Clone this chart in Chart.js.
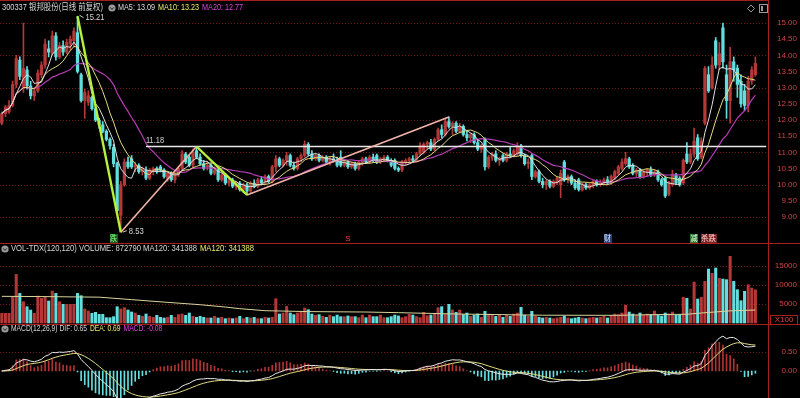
<!DOCTYPE html>
<html>
<head>
<meta charset="utf-8">
<script src="https://cdn.jsdelivr.net/npm/chart.js@4.4.1/dist/chart.umd.min.js"></script>
<style>
  html, body { margin: 0; padding: 0; background: #000; }
  #wrap { position: relative; width: 800px; height: 398px; overflow: hidden; background: #000; }
  #wrap canvas { position: absolute; left: 0; }
</style>
</head>
<body>
<div id="wrap">
  <canvas id="priceChart" width="800" height="244" style="top:0"></canvas>
  <canvas id="volChart" width="800" height="81" style="top:244px"></canvas>
  <canvas id="macdChart" width="800" height="73" style="top:325px"></canvas>
</div>
<script>
// ---- daily bars (300337, 日线 前复权) ----
const opens = [
  11.90, 12.20, 12.25, 12.45, 13.10, 13.85, 13.00, 13.55, 13.05, 12.75,
  12.90, 13.40, 13.70, 14.20, 14.05, 14.60, 13.95, 14.30, 14.10, 14.35,
  14.45, 14.70, 13.40, 12.60, 12.55, 12.70, 12.35, 12.00, 11.85, 11.65,
  11.40, 11.15, 10.65, 9.05, 10.00, 10.70, 10.80, 10.55, 10.60, 10.40,
  10.45, 10.20, 10.40, 10.50, 10.55, 10.45, 10.20, 10.35, 10.15, 10.30,
  10.50, 10.95, 10.85, 10.60, 11.05, 10.85, 10.65, 10.55, 10.60, 10.35,
  10.45, 10.15, 10.30, 10.05, 10.15, 9.95, 10.05, 9.85, 10.00, 9.80,
  10.05, 9.95, 10.15, 10.05, 10.25, 10.10, 10.55, 10.80, 10.60, 10.75,
  10.90, 10.60, 10.50, 10.80, 10.90, 11.25, 10.95, 10.80, 10.90, 10.75,
  10.85, 10.70, 10.80, 10.75, 10.85, 10.60, 10.70, 10.55, 10.65, 10.50,
  10.70, 10.80, 10.70, 10.85, 10.90, 10.70, 10.80, 10.85, 10.75, 10.75,
  10.50, 10.45, 10.70, 10.75, 10.80, 10.75, 10.95, 11.00, 11.25, 11.30,
  11.10, 11.40, 11.70, 11.55, 11.95, 11.80, 11.90, 11.65, 11.80, 11.55,
  11.45, 11.55, 11.30, 11.10, 11.40, 10.55, 10.85, 10.95, 10.75, 10.90,
  10.75, 10.95, 10.90, 10.95, 11.20, 10.90, 10.65, 10.90, 10.25, 10.40,
  10.10, 10.00, 10.10, 9.95, 10.05, 10.00, 10.70, 10.15, 10.25, 10.05,
  10.15, 9.85, 10.00, 9.90, 10.00, 10.10, 10.00, 10.05, 10.15, 10.05,
  10.20, 10.35, 10.50, 10.65, 10.80, 10.60, 10.35, 10.45, 10.25, 10.40,
  10.45, 10.30, 10.40, 10.15, 10.20, 9.70, 10.00, 10.30, 10.20, 10.05,
  10.95, 10.70, 10.95, 11.45, 10.85, 11.90, 13.40, 13.00, 14.45, 13.70,
  14.85, 13.40, 12.60, 13.80, 13.60, 13.20, 12.90, 12.45, 13.20, 13.40
];
const highs = [
  12.25, 12.45, 12.60, 13.20, 14.00, 13.95, 15.00, 13.65, 13.20, 13.00,
  13.55, 13.80, 14.50, 14.45, 14.75, 14.70, 14.40, 14.45, 14.50, 14.60,
  14.85, 15.21, 13.45, 12.95, 12.90, 12.75, 12.40, 12.05, 11.95, 11.70,
  11.45, 11.25, 10.70, 10.10, 10.80, 10.85, 10.90, 10.70, 10.65, 10.55,
  10.55, 10.50, 10.55, 10.55, 10.60, 10.50, 10.40, 10.40, 10.35, 10.55,
  11.05, 11.00, 10.90, 11.10, 11.18, 10.95, 10.75, 10.70, 10.65, 10.55,
  10.50, 10.35, 10.35, 10.20, 10.20, 10.10, 10.10, 10.05, 10.05, 10.10,
  10.15, 10.20, 10.25, 10.30, 10.30, 10.60, 10.90, 10.85, 10.80, 11.00,
  10.95, 10.70, 10.85, 10.95, 11.35, 11.30, 11.05, 10.95, 10.95, 10.90,
  10.90, 10.85, 10.95, 10.85, 11.05, 10.75, 10.75, 10.70, 10.70, 10.75,
  10.85, 10.85, 10.90, 10.95, 10.95, 10.85, 10.90, 10.90, 10.80, 10.80,
  10.55, 10.75, 10.80, 10.85, 10.90, 11.00, 11.30, 11.30, 11.35, 11.40,
  11.45, 11.75, 11.85, 12.05, 12.10, 11.95, 11.95, 11.90, 11.85, 11.65,
  11.60, 11.60, 11.40, 11.25, 11.45, 10.90, 11.00, 11.05, 10.85, 10.95,
  11.00, 11.15, 11.10, 11.30, 11.25, 10.95, 10.80, 10.95, 10.45, 10.45,
  10.20, 10.15, 10.15, 10.15, 10.25, 10.45, 10.75, 10.30, 10.30, 10.15,
  10.20, 10.05, 10.05, 10.05, 10.15, 10.15, 10.15, 10.20, 10.25, 10.30,
  10.45, 10.60, 10.80, 11.00, 10.85, 10.65, 10.50, 10.50, 10.45, 10.50,
  10.55, 10.45, 10.45, 10.20, 10.25, 10.10, 10.45, 10.35, 10.25, 10.80,
  11.30, 11.10, 11.75, 11.55, 11.45, 13.65, 13.65, 13.95, 14.55, 14.40,
  15.00, 13.70, 14.25, 13.95, 13.70, 13.40, 13.10, 13.35, 13.65, 13.95
];
const lows = [
  11.85, 12.10, 12.20, 12.40, 13.00, 13.25, 12.85, 12.95, 12.65, 12.60,
  12.85, 13.30, 13.60, 13.95, 14.00, 13.85, 13.90, 14.00, 14.05, 14.15,
  14.25, 13.45, 12.55, 12.05, 12.45, 12.30, 11.95, 11.75, 11.60, 11.35,
  11.10, 10.55, 9.15, 8.53, 9.95, 10.50, 10.50, 10.40, 10.35, 10.30,
  10.15, 10.15, 10.30, 10.35, 10.40, 10.20, 10.10, 10.10, 10.05, 10.25,
  10.45, 10.65, 10.55, 10.55, 10.80, 10.60, 10.45, 10.45, 10.30, 10.30,
  10.10, 10.10, 10.00, 9.95, 9.90, 9.85, 9.80, 9.75, 9.68, 9.75,
  9.90, 9.90, 10.00, 10.00, 10.05, 10.05, 10.40, 10.55, 10.55, 10.60,
  10.55, 10.45, 10.45, 10.70, 10.85, 10.90, 10.75, 10.75, 10.70, 10.70,
  10.65, 10.60, 10.70, 10.55, 10.55, 10.55, 10.50, 10.50, 10.45, 10.45,
  10.60, 10.65, 10.65, 10.70, 10.65, 10.65, 10.70, 10.70, 10.55, 10.45,
  10.40, 10.40, 10.60, 10.65, 10.70, 10.70, 10.90, 10.95, 11.10, 11.05,
  11.05, 11.35, 11.45, 11.50, 11.75, 11.55, 11.60, 11.60, 11.50, 11.35,
  11.30, 11.25, 11.05, 11.00, 10.45, 10.50, 10.75, 10.70, 10.60, 10.70,
  10.70, 10.85, 10.85, 10.90, 10.85, 10.60, 10.50, 10.15, 10.20, 10.05,
  9.90, 9.85, 9.90, 9.90, 10.00, 9.60, 10.10, 10.05, 10.00, 9.85,
  9.80, 9.80, 9.85, 9.85, 9.90, 9.95, 9.95, 10.00, 10.00, 10.00,
  10.15, 10.30, 10.45, 10.60, 10.50, 10.30, 10.25, 10.20, 10.20, 10.25,
  10.25, 10.25, 10.10, 9.95, 9.60, 9.65, 9.95, 10.00, 9.95, 10.00,
  10.65, 10.65, 10.85, 10.75, 10.80, 11.85, 12.85, 12.95, 13.60, 13.55,
  13.60, 12.05, 11.90, 13.20, 12.70, 12.40, 12.30, 12.25, 13.10, 13.35
];
const closes = [
  12.20, 12.40, 12.45, 13.10, 13.90, 13.35, 13.60, 13.05, 12.75, 12.90,
  13.45, 13.70, 14.35, 14.10, 14.60, 13.95, 14.30, 14.10, 14.40, 14.50,
  14.75, 13.50, 12.60, 12.85, 12.75, 12.35, 12.00, 11.85, 11.65, 11.40,
  11.20, 10.65, 9.20, 10.00, 10.70, 10.55, 10.55, 10.60, 10.40, 10.50,
  10.20, 10.45, 10.50, 10.40, 10.45, 10.25, 10.35, 10.15, 10.30, 10.50,
  10.95, 10.70, 10.60, 11.00, 10.85, 10.65, 10.50, 10.60, 10.35, 10.45,
  10.15, 10.30, 10.05, 10.15, 9.95, 10.05, 9.85, 10.00, 9.80, 10.05,
  9.95, 10.15, 10.05, 10.25, 10.10, 10.55, 10.80, 10.60, 10.75, 10.90,
  10.60, 10.50, 10.80, 10.90, 11.25, 10.95, 10.80, 10.90, 10.75, 10.85,
  10.70, 10.80, 10.75, 10.60, 10.60, 10.70, 10.55, 10.65, 10.50, 10.70,
  10.80, 10.70, 10.85, 10.75, 10.70, 10.80, 10.85, 10.75, 10.60, 10.50,
  10.45, 10.70, 10.75, 10.80, 10.75, 10.95, 11.20, 11.25, 11.30, 11.10,
  11.40, 11.70, 11.55, 11.95, 11.80, 11.90, 11.65, 11.80, 11.55, 11.45,
  11.55, 11.30, 11.10, 11.20, 10.55, 10.85, 10.95, 10.75, 10.80, 10.75,
  10.95, 10.90, 11.05, 11.20, 10.90, 10.65, 10.70, 10.25, 10.40, 10.10,
  10.00, 10.10, 9.95, 10.10, 10.20, 10.35, 10.15, 10.25, 10.05, 9.90,
  9.85, 10.00, 9.90, 10.00, 10.10, 10.00, 10.05, 10.15, 10.05, 10.25,
  10.40, 10.55, 10.70, 10.80, 10.55, 10.35, 10.45, 10.25, 10.40, 10.45,
  10.30, 10.40, 10.15, 10.00, 9.65, 10.05, 10.30, 10.05, 10.00, 10.75,
  10.70, 10.95, 11.35, 10.80, 11.35, 13.60, 12.90, 13.70, 13.70, 14.05,
  13.80, 12.60, 13.80, 13.55, 13.10, 12.50, 12.45, 13.20, 13.55, 13.75
];
// volume in units of 100 (axis shows X100)
const volumes = [
  2550, 2550, 2550, 6920, 12800, 7800, 5600, 4290, 3420, 2550,
  7100, 6490, 6920, 5790, 8420, 7800, 5600, 4910, 4910, 4910,
  4910, 7800, 7190, 3680, 3160, 2550, 2810, 2280, 2280, 1400,
  1400, 1660, 4290, 3680, 4030, 3420, 2900, 2630, 2020, 1750,
  2370, 1750, 1490, 2020, 1490, 1320, 1490, 2020, 1490, 2200,
  2370, 2020, 2630, 1750, 1490, 1750, 1490, 1320, 1320, 1750,
  1320, 1490, 1140, 1320, 1140, 1320, 1750, 1140, 1490, 1320,
  1490, 1140, 1140, 1490, 1320, 1490, 6390, 2370, 2630, 4380,
  2630, 2200, 2630, 2890, 3950, 3510, 2370, 2020, 2200, 1750,
  1490, 2100, 1670, 2100, 1670, 1670, 1850, 1670, 1670, 1400,
  2100, 1400, 2100, 1670, 1670, 2100, 1400, 1400, 1670, 2100,
  1850, 1400, 1670, 2280, 2100, 1670, 1400, 2800, 1900, 2100,
  2450, 4030, 4300, 2280, 4910, 3420, 2800, 3420, 2200, 2630,
  1750, 2020, 2370, 1490, 3070, 2370, 2020, 1750, 2200, 1490,
  2020, 1750, 2370, 2630, 4120, 2020, 1750, 3070, 1750, 1490,
  1320, 1490, 1320, 1140, 1320, 1490, 1750, 1320, 1140, 1320,
  1490, 1320, 1140, 1320, 1490, 1320, 1490, 1750, 1320, 2020,
  2370, 2200, 2630, 4650, 2890, 2370, 2020, 2630, 2020, 2370,
  2200, 3160, 2020, 1840, 2630, 2370, 2890, 2020, 2200, 6760,
  6500, 3680, 10780, 6310, 6760, 10960, 14200, 13070, 14470, 11750,
  11570, 11400, 17540, 10960, 8770, 5870, 8330, 10080, 9200, 8728
];
// VOL-TDX MA120 line: [day, value x100]
const volMa120 = [
  [0, 7020], [12, 6950], [27, 6800], [36, 6150], [45, 5500], [55, 4820],
  [62, 4200], [66, 3770], [73, 3240], [85, 3000], [101, 2890], [110, 2720],
  [126, 2370], [150, 2050], [171, 2020], [180, 2190], [190, 2300], [194, 2630],
  [202, 3200], [209, 3414]
];
// hand-drawn swing lines: peak 15.21, low 8.53, 11.18, 9.68, 12.09
const swingDays = [21, 33, 54, 68, 124];
const swingPrices = [15.21, 8.53, 11.18, 9.68, 12.09];
const levelPrice = 11.18;
const levelFrom = 40;
// signal marks under the candles
const signalDays = [31, 96, 168, 192, 196];
const signalText = ['跌', 'S', '财', '减', '杀跌'];
// axis tick labels
const priceTicks = ['9.00', '9.50', '10.00', '10.50', '11.00', '11.50', '12.00', '12.50', '13.00', '13.50', '14.00', '14.50', '15.00'];
const priceGrid = [9, 10, 11, 12, 13, 14, 15];
const volTicks = [5000, 10000, 15000];
const macdTicks = ['0.00', '0.50'];
const macdGrid = [0.5];
// header texts
const titleText = '300337 银邦股份(日线 前复权)';
const maText = ['MA5: 13.09', 'MA10: 13.23', 'MA20: 12.77'];
const volText = ['VOL-TDX(120,120) VOLUME: 872790 MA120: 341388', 'MA120: 341388'];
const macdText = ['MACD(12,26,9) DIF: 0.65', 'DEA: 0.69', 'MACD: -0.08'];

// ---- colours ----
const RED = '#b53838';
const CYAN = '#62dede';
const C_MA5 = '#dedede';
const C_MA10 = '#e4dc80';
const C_MA20 = '#b43cb4';
const GRID = '#6e1c1c';
const AXIS = '#a81e1e';
const TICK = '#d04444';
const HEAD_WHITE = '#d8d8d8';
const HEAD_YELLOW = '#ecec6a';
const HEAD_MAGENTA = '#e044e0';

// ---- derived series ----
function movingAverage(src, n) {
  return src.map((_, i) => {
    const from = Math.max(0, i - n + 1);
    let s = 0;
    for (let k = from; k <= i; k++) s += src[k];
    return s / (i - from + 1);
  });
}
function ema(src, n) {
  const out = [];
  src.forEach((v, i) => out.push(i === 0 ? v : (2 * v + (n - 1) * out[i - 1]) / (n + 1)));
  return out;
}
const ma5 = movingAverage(closes, 5);
const ma10 = movingAverage(closes, 10);
const ma20 = movingAverage(closes, 20);
const ema12 = ema(closes, 12);
const ema26 = ema(closes, 26);
const dif = ema12.map((v, i) => v - ema26[i]);
const dea = ema(dif, 9);
const macdHist = dif.map((v, i) => 2 * (v - dea[i]));

const slots = Array.from({ length: closes.length + 3 }, (_, i) => String(i));
const upDay = closes.map((c, i) => c >= opens[i]);
const dayColor = upDay.map(u => (u ? RED : CYAN));

// ---- drawing helpers ----
const FONT = '"Liberation Sans", "Noto Sans CJK SC", sans-serif';
function fitText(ctx, str, x, y, color, size, width, align) {
  ctx.save();
  ctx.font = size + 'px ' + FONT;
  ctx.fillStyle = color;
  ctx.textBaseline = 'middle';
  ctx.textAlign = align || 'left';
  const w = ctx.measureText(str).width;
  const sx = width ? width / w : 1;
  ctx.translate(x, y);
  ctx.scale(sx, 1);
  ctx.fillText(str, 0, 0);
  ctx.restore();
}
// a row of coloured pieces squeezed so the first one fits firstWidth
function textRow(ctx, parts, x, y, size, firstWidth) {
  ctx.save();
  ctx.font = size + 'px ' + FONT;
  const sx = firstWidth / ctx.measureText(parts[0][0]).width;
  ctx.restore();
  let cx = x;
  parts.forEach(([str, color]) => {
    ctx.save();
    ctx.font = size + 'px ' + FONT;
    const w = ctx.measureText(str).width * sx;
    fitText(ctx, str, cx, y, color, size, w);
    ctx.restore();
    cx += w + 3;
  });
}
function dotted(ctx, x0, x1, y) {
  ctx.save();
  ctx.strokeStyle = GRID;
  ctx.lineWidth = 1;
  ctx.setLineDash([1, 2]);
  ctx.beginPath();
  ctx.moveTo(x0, Math.round(y) + 0.5);
  ctx.lineTo(x1, Math.round(y) + 0.5);
  ctx.stroke();
  ctx.restore();
}
function solid(ctx, x0, y0, x1, y1, color) {
  ctx.save();
  ctx.strokeStyle = color;
  ctx.lineWidth = 1;
  ctx.beginPath();
  ctx.moveTo(x0, y0);
  ctx.lineTo(x1, y1);
  ctx.stroke();
  ctx.restore();
}
function gearIcon(ctx, x, y) {
  ctx.save();
  ctx.fillStyle = '#9a9a9a';
  ctx.beginPath();
  ctx.arc(x, y, 3.6, 0, Math.PI * 2);
  ctx.fill();
  ctx.strokeStyle = '#202020';
  ctx.lineWidth = 1;
  ctx.beginPath();
  ctx.moveTo(x - 1.8, y - 0.6);
  ctx.lineTo(x, y + 1.4);
  ctx.lineTo(x + 1.8, y - 0.6);
  ctx.stroke();
  ctx.restore();
}
function frame(chart, bottomLine) {
  const ctx = chart.ctx;
  const a = chart.chartArea;
  solid(ctx, a.right + 0.5, 0, a.right + 0.5, chart.height, AXIS);
  if (bottomLine) solid(ctx, 0, chart.height - 0.5, chart.width, chart.height - 0.5, AXIS);
}

const baseOptions = (yMin, yMax) => ({
  responsive: false,
  animation: false,
  events: [],
  layout: { padding: { left: 0, right: 32, top: 0, bottom: 0 } },
  plugins: { legend: { display: false }, tooltip: { enabled: false } },
  scales: {
    x: { type: 'category', display: false, offset: true, grid: { offset: true } },
    y: { type: 'linear', display: false, min: yMin, max: yMax }
  }
});

// ---- price panel ----
const swingSeg = (a, b) => [
  { x: String(swingDays[a]), y: swingPrices[a] },
  { x: String(swingDays[b]), y: swingPrices[b] }
];
const lineSet = (data, color, width) => ({
  type: 'line', data, borderColor: color, borderWidth: width, pointRadius: 0, tension: 0, spanGaps: true
});

const pricePlugin = {
  id: 'pricePanel',
  beforeDatasetsDraw(chart) {
    const ctx = chart.ctx, a = chart.chartArea, y = chart.scales.y;
    priceGrid.forEach(v => dotted(ctx, a.left, a.right, y.getPixelForValue(v)));
  },
  afterDraw(chart) {
    const ctx = chart.ctx, a = chart.chartArea, x = chart.scales.x, y = chart.scales.y;
    frame(chart, true);
    solid(ctx, 0, 0.5, a.right, 0.5, AXIS);
    priceTicks.forEach(t => fitText(ctx, t, 797, y.getPixelForValue(parseFloat(t)), TICK, 8, 0, 'right'));

    // header
    fitText(ctx, titleText, 2, 8, HEAD_WHITE, 9, 101);
    gearIcon(ctx, 112, 8);
    textRow(ctx, [[maText[0], C_MA5], [maText[1], HEAD_YELLOW], [maText[2], HEAD_MAGENTA]], 118, 8, 9, 37);

    // top-right icons
    ctx.save();
    ctx.strokeStyle = '#9a9a9a';
    ctx.lineWidth = 1;
    ctx.beginPath();
    ctx.moveTo(751, 5); ctx.lineTo(754.5, 8.5); ctx.lineTo(751, 12); ctx.lineTo(747.5, 8.5); ctx.closePath();
    ctx.stroke();
    ctx.strokeRect(759.5, 4.5, 8, 8);
    ctx.fillStyle = '#9a9a9a';
    ctx.fillRect(761, 6, 2, 5);
    ctx.restore();

    // swing labels
    const px = x.getPixelForValue(swingDays[0]), py = y.getPixelForValue(swingPrices[0]);
    solid(ctx, px + 2, py - 1, px + 6, py + 1.5, '#cfcfcf');
    fitText(ctx, '15.21', px + 8, py + 1, HEAD_WHITE, 9, 19);
    const lx = x.getPixelForValue(swingDays[1]), ly = y.getPixelForValue(swingPrices[1]);
    solid(ctx, lx + 2, ly, lx + 6, ly - 1.5, '#cfcfcf');
    fitText(ctx, '8.53', lx + 8, ly - 1, HEAD_WHITE, 9, 15);
    fitText(ctx, levelPrice.toFixed(2), x.getPixelForValue(levelFrom), y.getPixelForValue(levelPrice) - 6, HEAD_WHITE, 9, 18);

    // signal marks
    const signalStyle = {
      '跌': ['#1f5a1f', '#7dff7d'],
      'S': [null, '#ff4040'],
      '财': ['#29407a', '#d8e4ff'],
      '减': ['#2b7a2b', '#e8ffe8'],
      '杀跌': ['#7a2424', '#ffd0d0']
    };
    signalDays.forEach((d, k) => {
      const s = signalText[k];
      const cx = x.getPixelForValue(d);
      const w = s.length * 8;
      const st = signalStyle[s];
      if (st[0]) {
        ctx.fillStyle = st[0];
        ctx.fillRect(Math.round(cx - w / 2), 234, w, 9);
      }
      fitText(ctx, s, cx, 238.5, st[1], 8, s === 'S' ? 0 : w - 1, 'center');
    });
  }
};

new Chart(document.getElementById('priceChart'), {
  type: 'bar',
  data: {
    labels: slots,
    datasets: [
      lineSet(swingSeg(0, 1), '#b4f03c', 2.4),
      lineSet(swingSeg(2, 3), '#b4f03c', 2.4),
      lineSet(swingSeg(1, 2), '#f2b4a8', 1.6),
      lineSet(swingSeg(3, 4), '#f2b4a8', 1.6),
      lineSet([{ x: String(levelFrom), y: levelPrice }, { x: slots[slots.length - 1], y: levelPrice }], '#e8e8e8', 1.4),
      lineSet(ma5, C_MA5, 1),
      lineSet(ma10, C_MA10, 1),
      lineSet(ma20, C_MA20, 1.2),
      {
        type: 'bar', grouped: false,
        data: opens.map((o, i) => [o, closes[i]]),
        backgroundColor: dayColor, borderWidth: 0,
        barThickness: 2.6, minBarLength: 1
      },
      {
        type: 'bar', grouped: false,
        data: lows.map((l, i) => [l, highs[i]]),
        backgroundColor: dayColor, borderWidth: 0,
        barThickness: 1
      }
    ]
  },
  options: baseOptions(8.164, 15.711),
  plugins: [pricePlugin]
});

// ---- volume panel ----
const volPlugin = {
  id: 'volPanel',
  beforeDatasetsDraw(chart) {
    const ctx = chart.ctx, a = chart.chartArea, y = chart.scales.y;
    volTicks.forEach(v => dotted(ctx, a.left, a.right, y.getPixelForValue(v)));
  },
  afterDraw(chart) {
    const ctx = chart.ctx, y = chart.scales.y;
    frame(chart, true);
    volTicks.forEach(v => fitText(ctx, String(v), 797, y.getPixelForValue(v), TICK, 8, 0, 'right'));
    ctx.save();
    ctx.strokeStyle = AXIS;
    ctx.strokeRect(770.5, 71.5, 27, 9);
    ctx.restore();
    fitText(ctx, 'X100', 784, 76, TICK, 8, 0, 'center');
    gearIcon(ctx, 5, 5);
    textRow(ctx, [[volText[0], HEAD_WHITE], [volText[1], HEAD_YELLOW]], 11, 5, 9, 186);
  }
};

new Chart(document.getElementById('volChart'), {
  type: 'bar',
  data: {
    labels: slots,
    datasets: [
      lineSet(volMa120.map(p => ({ x: String(p[0]), y: p[1] })), '#d8d49c', 1),
      {
        type: 'bar', grouped: false,
        data: volumes,
        backgroundColor: dayColor, borderWidth: 0,
        barThickness: 2.4
      }
    ]
  },
  options: baseOptions(-526, 20793),
  plugins: [volPlugin]
});

// ---- MACD panel ----
const macdPlugin = {
  id: 'macdPanel',
  beforeDatasetsDraw(chart) {
    const ctx = chart.ctx, a = chart.chartArea, y = chart.scales.y;
    macdGrid.forEach(v => dotted(ctx, a.left, a.right, y.getPixelForValue(v)));
  },
  afterDraw(chart) {
    const ctx = chart.ctx, y = chart.scales.y;
    frame(chart, false);
    macdTicks.forEach(t => fitText(ctx, t, 797, y.getPixelForValue(parseFloat(t)), TICK, 8, 0, 'right'));
    gearIcon(ctx, 5, 4);
    textRow(ctx, [[macdText[0], HEAD_WHITE], [macdText[1], HEAD_YELLOW], [macdText[2], HEAD_MAGENTA]], 11, 4, 9, 76);
  }
};

new Chart(document.getElementById('macdChart'), {
  type: 'bar',
  data: {
    labels: slots,
    datasets: [
      lineSet(dif, '#e6e6e6', 1),
      lineSet(dea, '#e4dc80', 1),
      {
        type: 'bar', grouped: false,
        data: macdHist,
        backgroundColor: macdHist.map(v => (v >= 0 ? '#b03434' : '#66dede')),
        borderWidth: 0,
        barThickness: 1
      }
    ]
  },
  options: baseOptions(-0.7105, 1.2105),
  plugins: [macdPlugin]
});
</script>
</body>
</html>
